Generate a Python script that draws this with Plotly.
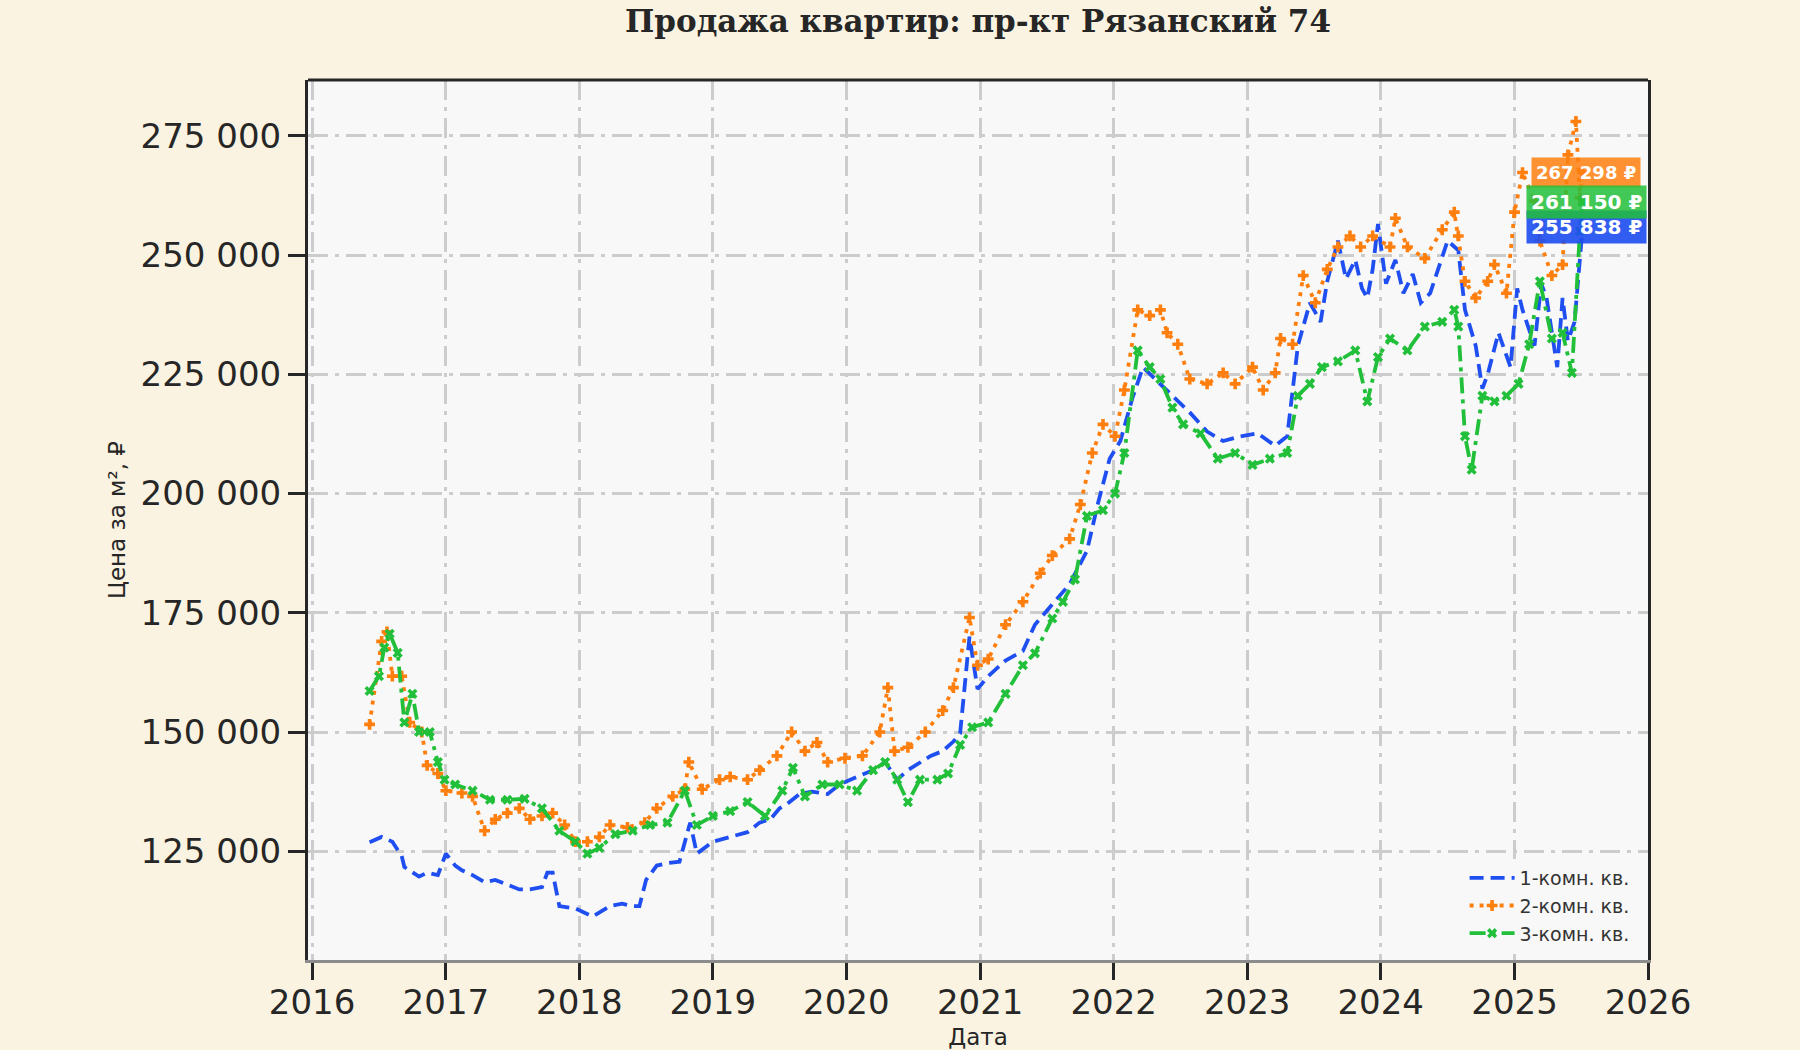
import datetime as dt
import plotly.graph_objects as go

# values (decimal year, price per m2)
years_1k = [2016.43, 2016.52, 2016.60, 2016.67, 2016.69, 2016.80, 2016.86, 2016.94, 2017.00, 2017.07,
            2017.12, 2017.20, 2017.29, 2017.37, 2017.46, 2017.55, 2017.63, 2017.72, 2017.76, 2017.80,
            2017.85, 2017.97, 2018.10, 2018.23, 2018.32, 2018.40, 2018.45, 2018.50, 2018.58, 2018.66,
            2018.75, 2018.80, 2018.83, 2018.88, 2019.00, 2019.13, 2019.26, 2019.35, 2019.43, 2019.50,
            2019.56, 2019.65, 2019.74, 2019.86, 2019.95, 2020.03, 2020.12, 2020.20, 2020.29, 2020.38,
            2020.46, 2020.55, 2020.63, 2020.72, 2020.80, 2020.85, 2020.92, 2020.98, 2021.06, 2021.19,
            2021.32, 2021.41, 2021.54, 2021.67, 2021.80, 2021.88, 2021.97, 2022.05, 2022.14, 2022.22,
            2022.31, 2022.44, 2022.57, 2022.70, 2022.82, 2022.95, 2023.08, 2023.21, 2023.30, 2023.38,
            2023.47, 2023.55, 2023.60, 2023.68, 2023.74, 2023.81, 2023.86, 2023.90, 2023.94, 2023.98,
            2024.04, 2024.11, 2024.17, 2024.24, 2024.30, 2024.37, 2024.44, 2024.50, 2024.58, 2024.63,
            2024.71, 2024.76, 2024.80, 2024.88, 2024.97, 2025.02, 2025.06, 2025.15, 2025.20, 2025.24,
            2025.32, 2025.36, 2025.40, 2025.45, 2025.51]
price_1k = [126900, 128000, 127000, 124000, 121700, 119700, 120500, 120000, 124500, 122000,
            121000, 120000, 118500, 119000, 118000, 117000, 117000, 117500, 120500, 120500,
            113500, 113000, 111300, 113500, 114000, 113500, 113500, 119000, 122000, 122500,
            122800, 128000, 131000, 124500, 127000, 128000, 129000, 131000, 131700, 134000,
            135000, 137000, 137500, 137000, 139000, 140000, 141000, 142000, 143700, 140000,
            142000, 143700, 145000, 146000, 148000, 149700, 170000, 159000, 161700, 165000,
            167000, 172500, 176800, 181000, 188000, 197700, 207300, 211000, 220000, 226500,
            224000, 220500, 217000, 213000, 211000, 212000, 212600, 210000, 212000, 231000,
            240000, 236000, 244500, 253000, 245000, 249000, 243000, 241000, 247000, 256500,
            244000, 249000, 242000, 246000, 240000, 242000, 248000, 253000, 251000, 238500,
            231000, 222000, 225000, 233700, 226500, 243000, 238500, 231000, 244000, 241000,
            226500, 241000, 232000, 236000, 255838]

years_2k = [2016.43, 2016.52, 2016.56, 2016.60, 2016.67, 2016.73, 2016.82, 2016.86, 2016.94, 2017.00,
            2017.12, 2017.20, 2017.29, 2017.37, 2017.46, 2017.55, 2017.63, 2017.72, 2017.80, 2017.89,
            2017.97, 2018.06, 2018.15, 2018.23, 2018.36, 2018.49, 2018.58, 2018.70, 2018.79, 2018.82,
            2018.92, 2019.05, 2019.13, 2019.26, 2019.35, 2019.48, 2019.59, 2019.69, 2019.78, 2019.86,
            2019.99, 2020.12, 2020.25, 2020.31, 2020.36, 2020.46, 2020.59, 2020.72, 2020.80, 2020.92,
            2020.98, 2021.06, 2021.19, 2021.32, 2021.45, 2021.54, 2021.67, 2021.75, 2021.84, 2021.92,
            2022.01, 2022.08, 2022.18, 2022.27, 2022.35, 2022.40, 2022.48, 2022.57, 2022.70, 2022.82,
            2022.91, 2023.04, 2023.12, 2023.21, 2023.25, 2023.34, 2023.42, 2023.51, 2023.60, 2023.68,
            2023.77, 2023.85, 2023.94, 2024.07, 2024.11, 2024.20, 2024.33, 2024.46, 2024.55, 2024.58,
            2024.63, 2024.71, 2024.80, 2024.85, 2024.94, 2025.00, 2025.06, 2025.15, 2025.19, 2025.28,
            2025.36, 2025.40, 2025.46, 2025.49, 2025.51]
price_2k = [151600, 169000, 171000, 161700, 161700, 152000, 150000, 143000, 141300, 137700,
            137200, 136500, 129300, 131700, 133000, 134000, 131700, 132400, 133000, 130500,
            127000, 127000, 128000, 130500, 130000, 131000, 134000, 136500, 138000, 143700,
            138000, 140000, 140600, 140000, 142000, 145000, 150000, 146000, 147800, 143700,
            144500, 145000, 150000, 159300, 146000, 146800, 150000, 154500, 159300, 174000,
            164000, 165300, 172500, 177300, 183300, 187000, 190500, 197700, 208500, 214500,
            212000, 221700, 238500, 237300, 238500, 233700, 231300, 224000, 223000, 225300,
            223000, 226500, 221700, 225300, 232500, 231300, 245700, 240000, 247000, 251700,
            254000, 251700, 254000, 251700, 257700, 251700, 249300, 255300, 259000, 254000,
            244500, 241000, 244500, 248000, 242000, 259000, 267300, 261300, 253000, 245700,
            248000, 271000, 278000, 262000, 267298]

years_3k = [2016.43, 2016.50, 2016.54, 2016.58, 2016.64, 2016.69, 2016.75, 2016.80, 2016.88, 2016.94,
            2016.99, 2017.07, 2017.20, 2017.33, 2017.46, 2017.59, 2017.72, 2017.85, 2017.97, 2018.06,
            2018.15, 2018.27, 2018.40, 2018.53, 2018.66, 2018.79, 2018.88, 2019.00, 2019.13, 2019.26,
            2019.39, 2019.52, 2019.60, 2019.69, 2019.82, 2019.95, 2020.08, 2020.20, 2020.29, 2020.38,
            2020.46, 2020.55, 2020.68, 2020.76, 2020.85, 2020.94, 2021.06, 2021.19, 2021.32, 2021.41,
            2021.54, 2021.62, 2021.71, 2021.80, 2021.92, 2022.01, 2022.08, 2022.18, 2022.27, 2022.35,
            2022.44, 2022.52, 2022.65, 2022.78, 2022.91, 2023.04, 2023.17, 2023.30, 2023.38, 2023.47,
            2023.56, 2023.68, 2023.81, 2023.90, 2023.98, 2024.07, 2024.20, 2024.33, 2024.46, 2024.55,
            2024.58, 2024.63, 2024.68, 2024.76, 2024.85, 2024.94, 2025.03, 2025.11, 2025.19, 2025.28,
            2025.36, 2025.43, 2025.49, 2025.51]
price_3k = [158600, 161700, 167700, 170600, 166600, 152000, 158000, 150000, 150000, 143700,
            140000, 139000, 137700, 135800, 135800, 136000, 134000, 129300, 127000, 124500,
            125700, 128600, 129300, 130500, 131000, 137700, 130500, 132400, 133400, 135300,
            132400, 137700, 142500, 136500, 139000, 139000, 137700, 142000, 143700, 140000,
            135300, 140000, 140000, 141300, 147300, 151000, 152000, 158000, 164000, 166500,
            173800, 177300, 182000, 195300, 196500, 200000, 208500, 230000, 226500, 224000,
            218000, 214500, 212600, 207300, 208500, 206000, 207300, 208500, 220500, 223000,
            226500, 227700, 230000, 219300, 228600, 232500, 230000, 235000, 236000, 238500,
            235000, 212000, 205000, 220500, 219300, 220500, 223000, 231300, 244500, 232500,
            233700, 225300, 255000, 261150]

names = ["1-комн. кв.", "2-комн. кв.", "3-комн. кв."]
colors = ["#1f4ff0", "#ff7f0e", "#22c03a"]
label_fills = ["rgba(31,79,240,0.92)", "rgba(255,127,14,0.85)", "rgba(34,192,58,0.85)"]


def to_date(y):
    year = int(y)
    start = dt.datetime(year, 1, 1)
    days = (dt.datetime(year + 1, 1, 1) - start).days
    return start + dt.timedelta(days=(y - year) * days)


series = [(years_1k, price_1k), (years_2k, price_2k), (years_3k, price_3k)]
dashes = ["14px,7px", "4px,6px", "16px,6px,4px,6px"]
markers = [None, "cross", "x"]

fig = go.Figure()
for i, (yrs, vals) in enumerate(series):
    kw = dict(mode="lines")
    if markers[i]:
        kw = dict(mode="lines+markers", marker=dict(symbol=markers[i], size=9, color=colors[i]))
    fig.add_trace(go.Scatter(x=[to_date(v) for v in yrs], y=vals, name=names[i],
                             line=dict(color=colors[i], width=3.8, dash=dashes[i]), **kw))

# labels with last values
label_sizes = [20, 18, 20]
for i, (yrs, vals) in enumerate(series):
    txt = f"{vals[-1]:,}".replace(",", " ") + " ₽"
    fig.add_annotation(x=0.954, xref="paper", y=vals[-1], yref="y", text="<b>" + txt + "</b>",
                       showarrow=False, xanchor="center", yanchor="middle",
                       font=dict(family="DejaVu Sans", size=label_sizes[i], color="white"),
                       bgcolor=label_fills[i], borderpad=4)

fig.add_shape(type="line", xref="paper", yref="paper", x0=0, x1=1, y0=1, y1=1,
              line=dict(color="#262626", width=3))

grid_dash = "20px,7px,4px,7px"
fig.update_layout(
    width=1800, height=1050,
    paper_bgcolor="#faf3e1", plot_bgcolor="#f8f8f8",
    margin=dict(l=308, r=152, t=80, b=90),
    separators=", ",
    font=dict(family="DejaVu Sans", color="#262626"),
    title=dict(text="<b>Продажа квартир: пр-кт Рязанский 74</b>", x=0.5, xref="paper",
               y=0.98, yanchor="middle", font=dict(family="DejaVu Serif", size=31, color="#262626")),
    legend=dict(x=0.99, y=0.008, xanchor="right", yanchor="bottom", bgcolor="#f8f8f8",
                font=dict(size=19, color="#333333"), itemwidth=45, tracegroupgap=5),
    showlegend=True,
)
fig.update_xaxes(type="date", range=["2015-12-21", "2026-01-01"], dtick="M12", tick0="2016-01-01",
                 tickformat="%Y", tickfont=dict(size=34), ticks="outside", ticklen=17, tickwidth=3,
                 tickcolor="#262626", showline=True, linecolor="#8c8c8c", linewidth=3,
                 ticklabelstandoff=-7,
                 showgrid=True, gridcolor="#cccccc", gridwidth=2.5, griddash=grid_dash,
                 zeroline=False, automargin=False,
                 title=dict(text="Дата", font=dict(size=23), standoff=14))
fig.update_yaxes(range=[102200, 286700], tick0=0, dtick=25000, tickformat=",d",
                 tickfont=dict(size=34), ticks="outside", ticklen=17, tickwidth=3, tickcolor="#262626",
                 showline=True, linecolor="#262626", linewidth=3, mirror=True,
                 showgrid=True, gridcolor="#cccccc", gridwidth=2.5, griddash=grid_dash,
                 zeroline=False, automargin=False,
                 title=dict(text="Цена за м², ₽", font=dict(size=23), standoff=9))

fig.write_html("out.html", post_script="document.body.style.margin='0';",
               config={"displayModeBar": False})
